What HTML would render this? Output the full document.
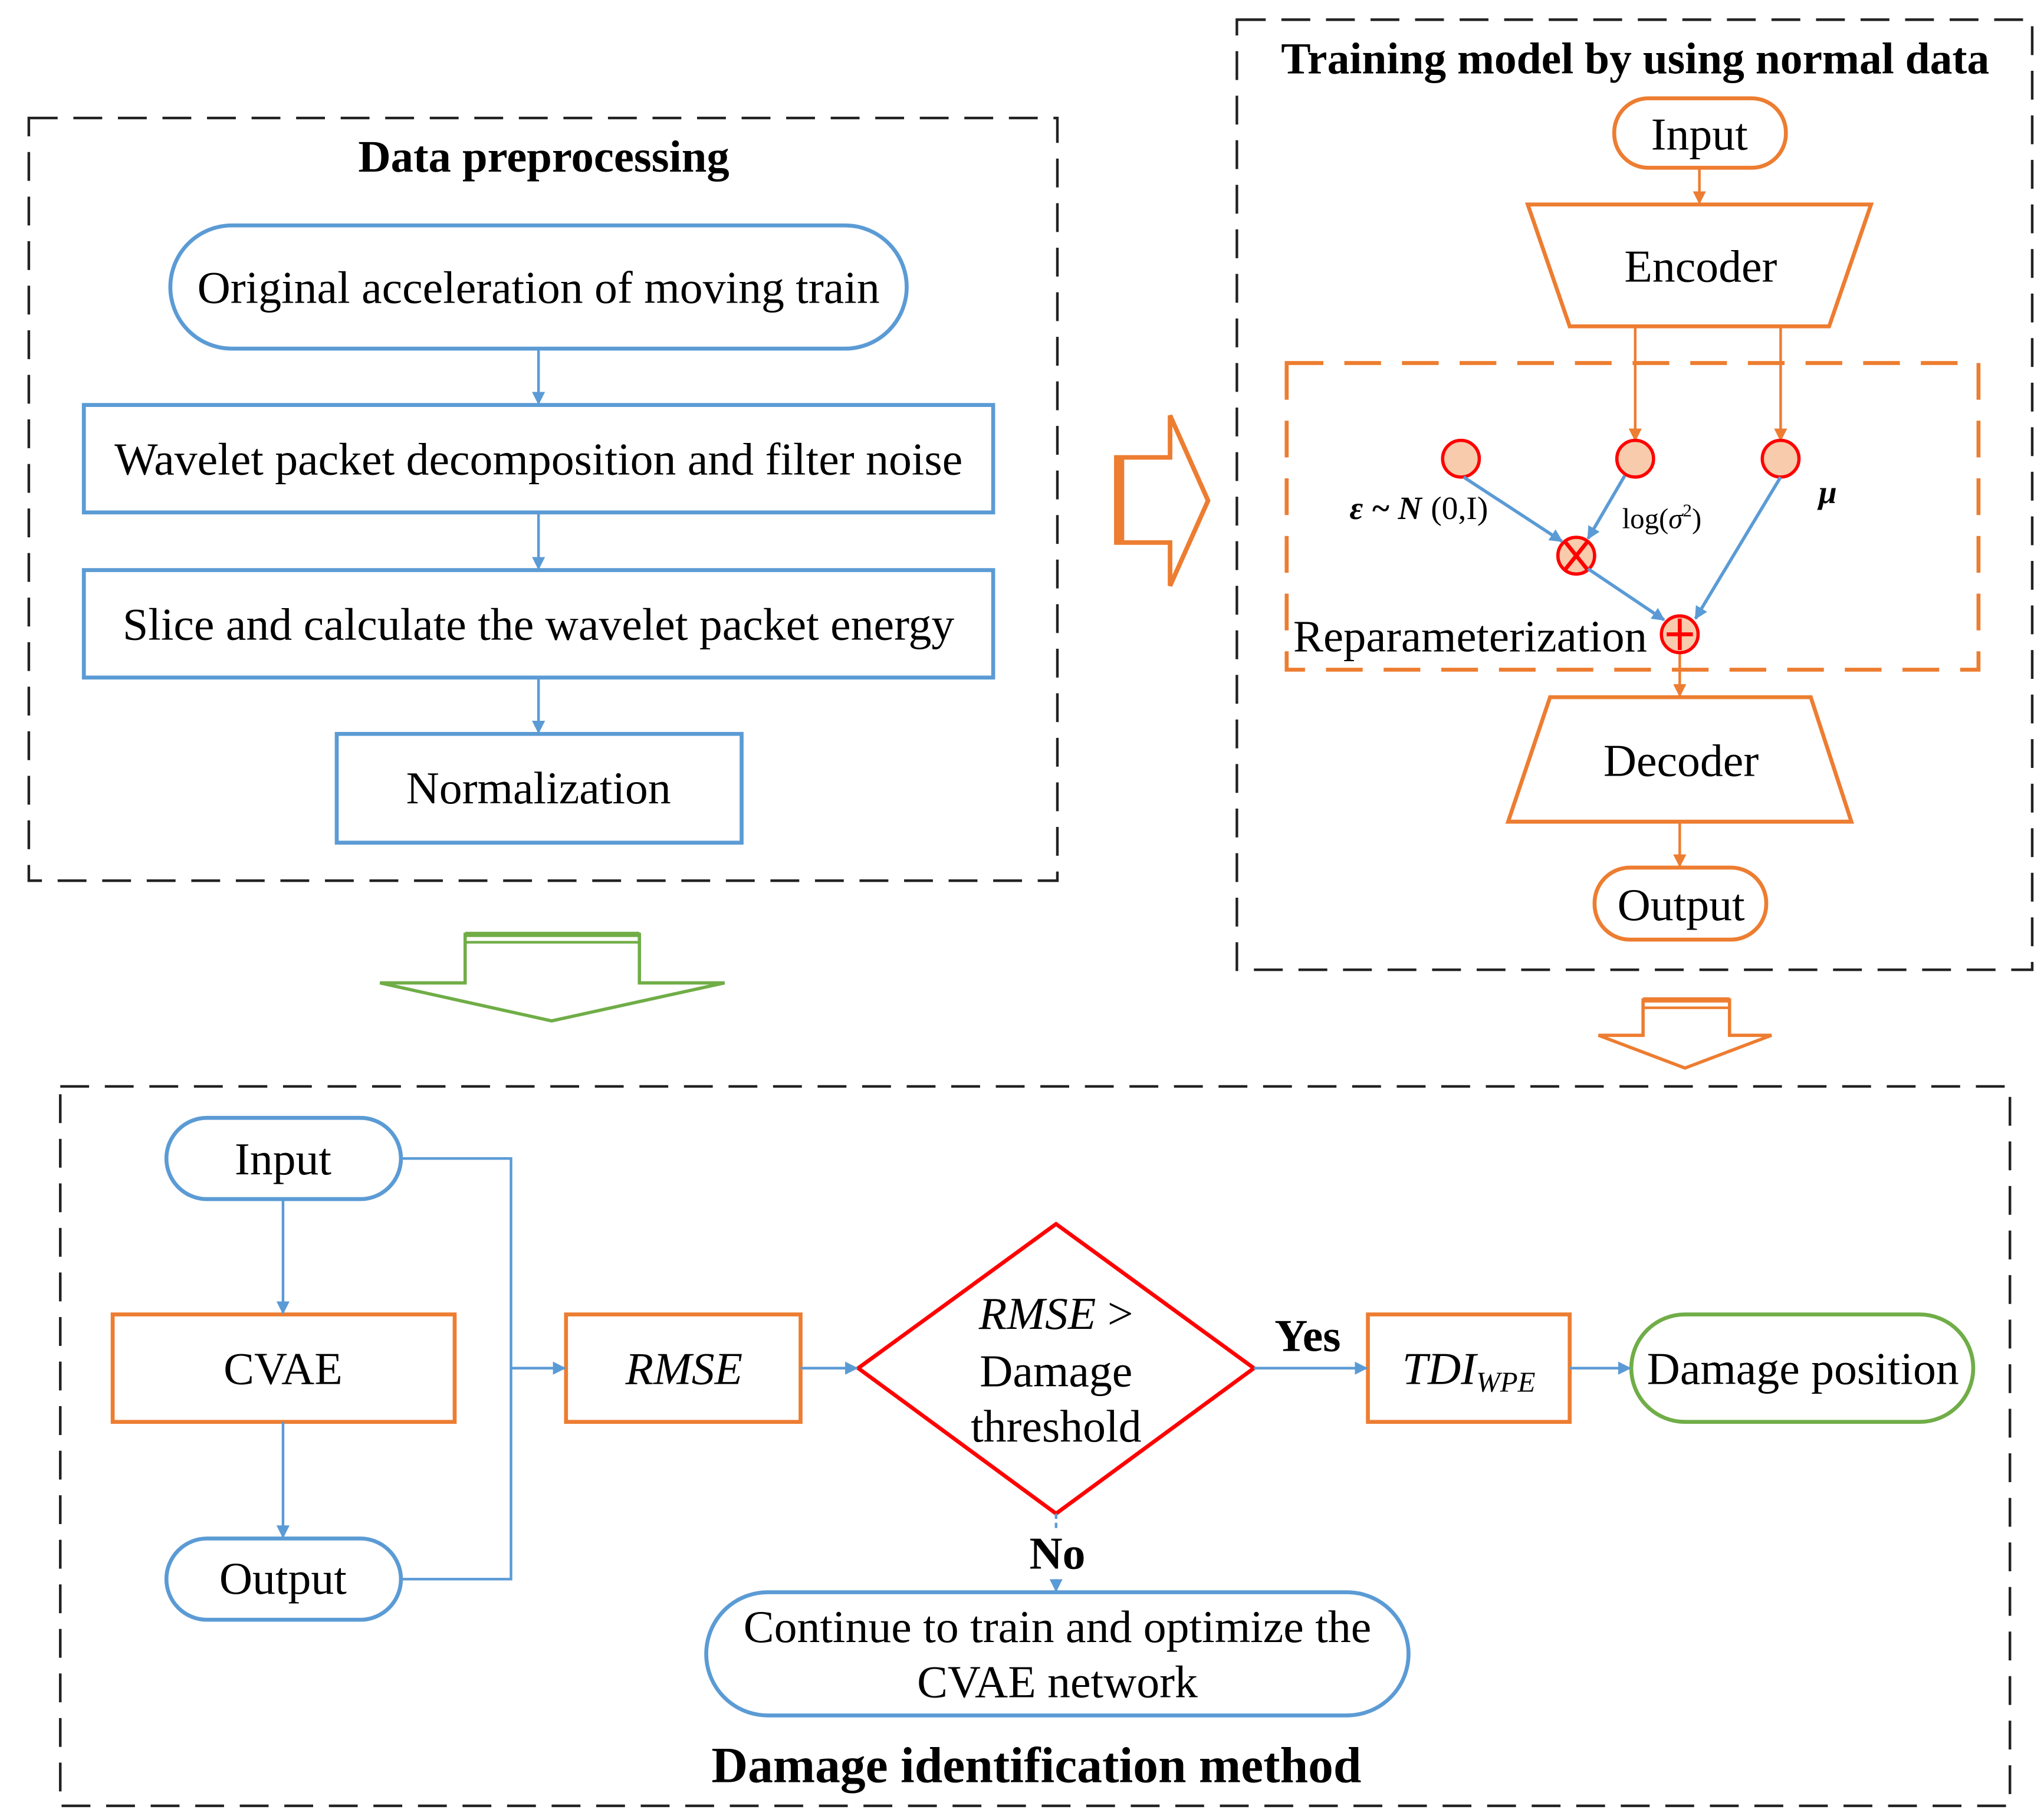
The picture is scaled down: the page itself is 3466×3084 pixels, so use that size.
<!DOCTYPE html>
<html><head><meta charset="utf-8"><style>
html,body{margin:0;padding:0;background:#fff}
svg{display:block}
text{font-family:"Liberation Serif",serif;fill:#000}
</style></head><body>
<svg width="3466" height="3084" viewBox="0 0 1560 1388" xmlns="http://www.w3.org/2000/svg">
<defs>
<marker id="ab" markerWidth="10" markerHeight="10" refX="9" refY="5" orient="auto" markerUnits="userSpaceOnUse"><path d="M0,0 L10,5 L0,10 Z" fill="#5b9bd5"/></marker>
<marker id="ao" markerWidth="10" markerHeight="10" refX="9" refY="5" orient="auto" markerUnits="userSpaceOnUse"><path d="M0,0 L10,5 L0,10 Z" fill="#ed7d31"/></marker>
</defs>
<g fill="none" stroke="#222" stroke-width="2" stroke-dasharray="22,12">
<rect x="22" y="90" width="785" height="582"/>
<rect x="944" y="15" width="607" height="725"/>
<rect x="46" y="829" width="1488" height="549"/>
</g>
<text x="415" y="131" font-size="34.5" font-weight="bold" text-anchor="middle">Data preprocessing</text>
<text x="1248" y="56" font-size="34" font-weight="bold" text-anchor="middle">Training model by using normal data</text>
<text x="791" y="1360" font-size="38.5" font-weight="bold" text-anchor="middle">Damage identification method</text>

<g fill="none" stroke="#5b9bd5" stroke-width="3">
<rect x="130" y="172" width="562" height="94" rx="47"/>
<rect x="64" y="309" width="694" height="82"/>
<rect x="64" y="435" width="694" height="82"/>
<rect x="257" y="560" width="309" height="83"/>
</g>
<g stroke="#5b9bd5" stroke-width="2" marker-end="url(#ab)">
<line x1="411" y1="266" x2="411" y2="308"/>
<line x1="411" y1="391" x2="411" y2="434"/>
<line x1="411" y1="517" x2="411" y2="559"/>
</g>
<g font-size="35" text-anchor="middle">
<text x="411" y="231">Original acceleration of moving train</text>
<text x="411" y="362">Wavelet packet decomposition and filter noise</text>
<text x="411" y="488">Slice and calculate the wavelet packet energy</text>
<text x="411" y="613">Normalization</text>
</g>

<!-- training -->
<g fill="none" stroke="#ed7d31" stroke-width="3">
<rect x="1232" y="75" width="131" height="53" rx="26"/>
<path d="M1166,156 L1428,156 L1396,249 L1198,249 Z"/>
<path d="M1183,532 L1382,532 L1413,627 L1151,627 Z"/>
<rect x="1217" y="662" width="131" height="55" rx="27"/>
<rect x="982" y="277" width="528" height="234" stroke-dasharray="28,16"/>
</g>
<g stroke="#ed7d31" stroke-width="2" marker-end="url(#ao)">
<line x1="1297" y1="128" x2="1297" y2="155"/>
<line x1="1248" y1="249" x2="1248" y2="336"/>
<line x1="1359" y1="249" x2="1359" y2="336"/>
<line x1="1282" y1="497" x2="1282" y2="531"/>
<line x1="1282" y1="627" x2="1282" y2="661"/>
</g>
<g font-size="35" text-anchor="middle">
<text x="1297" y="114">Input</text>
<text x="1298" y="215">Encoder</text>
<text x="1283" y="592">Decoder</text>
<text x="1283" y="702">Output</text>
</g>
<g fill="#f7cbab" stroke="#f00" stroke-width="2.5">
<circle cx="1115" cy="350" r="14"/>
<circle cx="1248" cy="350" r="14"/>
<circle cx="1359" cy="350" r="14"/>
<circle cx="1203" cy="424" r="14"/>
<circle cx="1282" cy="484" r="14"/>
</g>
<g stroke="#f00" stroke-width="3">
<line x1="1195" y1="414" x2="1211" y2="434"/><line x1="1211" y1="414" x2="1195" y2="434"/>
<line x1="1272" y1="484" x2="1292" y2="484"/><line x1="1282" y1="472" x2="1282" y2="496"/>
</g>
<g stroke="#5b9bd5" stroke-width="2.5" marker-end="url(#ab)">
<line x1="1117" y1="364" x2="1192" y2="413"/>
<line x1="1240" y1="363" x2="1212" y2="411"/>
<line x1="1359" y1="364" x2="1294" y2="472"/>
<line x1="1212" y1="434" x2="1270" y2="473"/>
</g>
<text x="1030" y="396" font-size="25" font-weight="bold" font-style="italic">ε ~ N</text>
<text x="1092" y="396" font-size="25">(0,I)</text>
<text x="1238" y="403" font-size="22">log(<tspan font-style="italic">σ</tspan><tspan font-size="14" dy="-9">2</tspan><tspan dy="9">)</tspan></text>
<text x="1388" y="384" font-size="25" font-weight="bold" font-style="italic">μ</text>
<text x="987" y="497" font-size="34.5">Reparameterization</text>

<!-- big arrows -->
<path d="M852,349 L893,349 L893,317 L922,382 L893,447 L893,414 L852,414 Z" fill="none" stroke="#ed7d31" stroke-width="3.5"/>
<rect x="852" y="349" width="6" height="65" fill="#ed7d31"/>
<path d="M355,713 L488,713 L488,750 L553,750 L421,779 L290,750 L355,750 Z" fill="none" stroke="#70ad47" stroke-width="2.5"/>
<rect x="355" y="711" width="133" height="4" fill="#70ad47"/><rect x="355" y="718" width="133" height="2" fill="#70ad47"/>
<path d="M1254,763 L1320,763 L1320,790 L1352,790 L1286,815 L1220,790 L1254,790 Z" fill="none" stroke="#ed7d31" stroke-width="2.5"/>
<rect x="1254" y="761" width="66" height="4" fill="#ed7d31"/><rect x="1254" y="768" width="66" height="2" fill="#ed7d31"/>

<!-- damage identification -->
<g fill="none" stroke-width="3">
<rect x="127" y="853" width="179" height="62" rx="31" stroke="#5b9bd5"/>
<rect x="127" y="1174" width="179" height="62" rx="31" stroke="#5b9bd5"/>
<rect x="86" y="1003" width="261" height="82" stroke="#ed7d31"/>
<rect x="432" y="1003" width="179" height="82" stroke="#ed7d31"/>
<rect x="1044" y="1003" width="154" height="82" stroke="#ed7d31"/>
<rect x="1245" y="1003" width="261" height="82" rx="41" stroke="#70ad47"/>
<rect x="539" y="1215" width="536" height="94" rx="47" stroke="#5b9bd5"/>
<path d="M655,1044 L806,934 L957,1044 L806,1155 Z" stroke="#f00"/>
</g>
<g fill="none" stroke="#5b9bd5" stroke-width="2">
<polyline points="306,884 390,884 390,1205 306,1205"/>
<line x1="806" y1="1155" x2="806" y2="1168" stroke-dasharray="4,3"/>
</g>
<g stroke="#5b9bd5" stroke-width="2" marker-end="url(#ab)">
<line x1="390" y1="1044" x2="431" y2="1044"/>
<line x1="216" y1="915" x2="216" y2="1002"/>
<line x1="216" y1="1085" x2="216" y2="1173"/>
<line x1="611" y1="1044" x2="654" y2="1044"/>
<line x1="957" y1="1044" x2="1043" y2="1044"/>
<line x1="1198" y1="1044" x2="1244" y2="1044"/>
<line x1="806" y1="1205" x2="806" y2="1214"/>
</g>
<g font-size="35" text-anchor="middle">
<text x="216" y="896">Input</text>
<text x="216" y="1216">Output</text>
<text x="216" y="1056">CVAE</text>
<text x="522" y="1056" font-style="italic">RMSE</text>
<text x="806" y="1014"><tspan font-style="italic">RMSE</tspan> &gt;</text>
<text x="806" y="1058">Damage</text>
<text x="806" y="1100">threshold</text>
<text x="998" y="1031" font-weight="bold">Yes</text>
<text x="807" y="1197" font-weight="bold">No</text>
<text x="1121" y="1056" font-style="italic">TDI<tspan font-size="22" dy="6">WPE</tspan></text>
<text x="1376" y="1056">Damage position</text>
<text x="807" y="1253">Continue to train and optimize the</text>
<text x="807" y="1295">CVAE network</text>
</g>
</svg>
</body></html>
